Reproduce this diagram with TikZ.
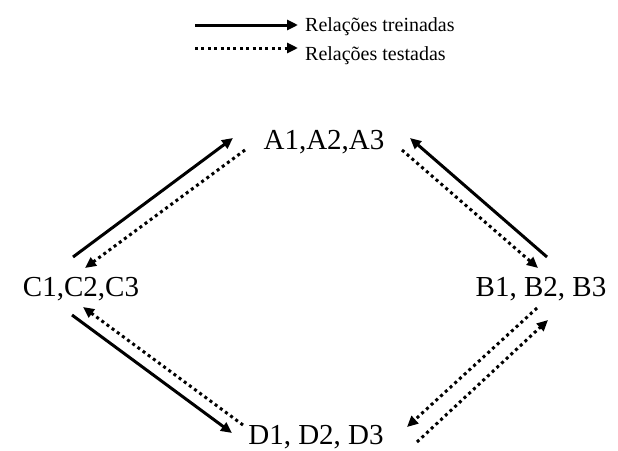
\documentclass[tikz,border=0pt]{standalone}
\usepackage{fontspec}
\setmainfont{Liberation Serif}
\usetikzlibrary{arrows.meta}

\tikzset{
  treinada/.style={line width=3pt,-{Triangle[length=11pt,width=10pt]}},
  testada/.style={line width=3pt,dash pattern=on 3pt off 3.4pt,-{Triangle[length=11pt,width=10pt]}},
  grupo/.style={anchor=base,inner sep=0pt,font=\fontsize{29}{29}\selectfont},
  legenda/.style={anchor=base west,inner sep=0pt,font=\fontsize{20}{20}\selectfont}
}

\begin{document}
\begin{tikzpicture}[x=1pt,y=-1pt]
\useasboundingbox (0,0) rectangle (618,450);

% legenda
\coordinate (l1a) at (195,25);
\coordinate (l1b) at (298,25);
\coordinate (l2a) at (195,48);
\coordinate (l2b) at (298,48);
\draw[treinada] (l1a) -- (l1b);
\draw[testada] (l2a) -- (l2b);
\node[legenda] (lt1) at (305,31) {Relações treinadas};
\node[legenda] (lt2) at (305,60) {Relações testadas};

% estimulos
\node[grupo] (A) at (324,149) {A1,A2,A3};
\node[grupo] (C) at (81,296) {C1,C2,C3};
\node[grupo] (B) at (541,296) {B1, B2, B3};
\node[grupo] (D) at (316,444) {D1, D2, D3};

% pontas das setas
\coordinate (ca1) at (73,257);  \coordinate (ca2) at (233,138);
\coordinate (ac1) at (245,150); \coordinate (ac2) at (85,268);
\coordinate (ba1) at (547,257); \coordinate (ba2) at (410,138);
\coordinate (ab1) at (402,150); \coordinate (ab2) at (538,268);
\coordinate (cd1) at (72,315);  \coordinate (cd2) at (232,433);
\coordinate (dc1) at (243,425); \coordinate (dc2) at (83,307);
\coordinate (bd1) at (537,308); \coordinate (bd2) at (407,427);
\coordinate (db1) at (417,442); \coordinate (db2) at (548,320);

\draw[treinada] (ca1) -- (ca2);
\draw[testada] (ac1) -- (ac2);
\draw[treinada] (ba1) -- (ba2);
\draw[testada] (ab1) -- (ab2);
\draw[treinada] (cd1) -- (cd2);
\draw[testada] (dc1) -- (dc2);
\draw[testada] (bd1) -- (bd2);
\draw[testada] (db1) -- (db2);

\end{tikzpicture}
\end{document}
